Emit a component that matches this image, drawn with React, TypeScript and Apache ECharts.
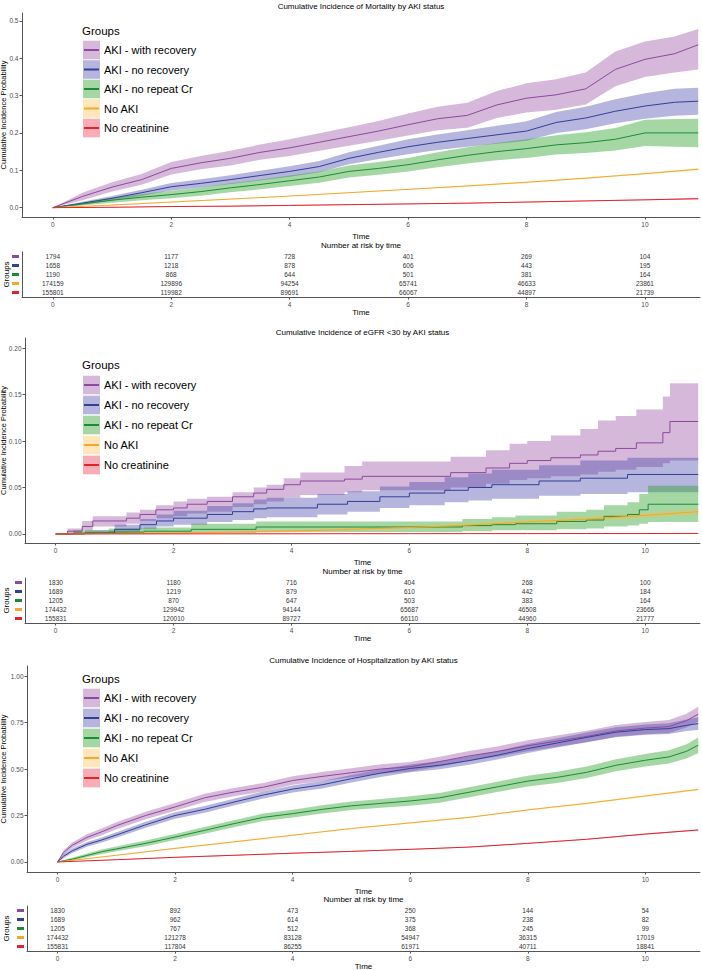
import React, { useEffect, useRef } from 'react';
import * as echarts from 'echarts';

const FONT = "'Liberation Sans', Arial, Helvetica, sans-serif";

const GROUPS = ['AKI - with recovery', 'AKI - no recovery', 'AKI - no repeat Cr', 'No AKI', 'No creatinine'];
const LINE_COLORS = ['#8C4A9C', '#333F95', '#1B8B35', '#F4A82C', '#E2232A'];
const FILL_COLORS = ['rgba(152,78,163,0.4)', 'rgba(70,70,170,0.4)', 'rgba(40,160,40,0.42)', 'rgba(255,185,60,0.35)', 'rgba(232,40,60,0.38)'];
const X_TICKS = [0, 2, 4, 6, 8, 10];
const RISK_TIMES = [0, 2, 4, 6, 8, 10];

// ---------- Panel 1: Mortality ----------
const mortT = [0, 0.5, 1, 1.5, 2, 2.5, 3, 3.5, 4, 4.5, 5, 5.5, 6, 6.5, 7, 7.5, 8, 8.5, 9, 9.5, 10, 10.5, 10.9];
const mortRecEst = [0, 0.03, 0.055, 0.075, 0.105, 0.12, 0.132, 0.148, 0.16, 0.175, 0.19, 0.205, 0.222, 0.238, 0.247, 0.275, 0.293, 0.302, 0.318, 0.37, 0.397, 0.412, 0.436];
const mortRecHi = [0, 0.04, 0.068, 0.09, 0.122, 0.138, 0.152, 0.169, 0.183, 0.199, 0.215, 0.232, 0.252, 0.27, 0.281, 0.312, 0.333, 0.344, 0.362, 0.418, 0.445, 0.458, 0.478];
const mortRecLo = [0, 0.02, 0.043, 0.061, 0.089, 0.103, 0.113, 0.128, 0.138, 0.152, 0.166, 0.179, 0.193, 0.207, 0.214, 0.24, 0.255, 0.262, 0.276, 0.325, 0.35, 0.362, 0.37];
const mortNoRecEst = [0, 0.012, 0.025, 0.04, 0.056, 0.065, 0.075, 0.086, 0.097, 0.11, 0.132, 0.148, 0.163, 0.175, 0.185, 0.195, 0.205, 0.228, 0.24, 0.258, 0.272, 0.282, 0.285];
const mortNoRecHi = [0, 0.016, 0.031, 0.048, 0.066, 0.076, 0.087, 0.099, 0.111, 0.125, 0.148, 0.166, 0.183, 0.196, 0.207, 0.219, 0.231, 0.256, 0.27, 0.29, 0.306, 0.318, 0.321];
const mortNoRecLo = [0, 0.008, 0.019, 0.032, 0.046, 0.054, 0.063, 0.073, 0.083, 0.095, 0.116, 0.13, 0.143, 0.154, 0.163, 0.171, 0.179, 0.2, 0.21, 0.226, 0.238, 0.246, 0.249];
const mortNoRepEst = [0, 0.01, 0.02, 0.028, 0.035, 0.043, 0.053, 0.062, 0.072, 0.082, 0.097, 0.105, 0.115, 0.128, 0.14, 0.15, 0.158, 0.168, 0.174, 0.183, 0.2, 0.2, 0.2];
const mortNoRepHi = [0, 0.014, 0.027, 0.036, 0.045, 0.054, 0.065, 0.075, 0.086, 0.097, 0.113, 0.122, 0.133, 0.148, 0.162, 0.173, 0.183, 0.194, 0.202, 0.213, 0.235, 0.237, 0.238];
const mortNoRepLo = [0, 0.006, 0.013, 0.02, 0.025, 0.032, 0.041, 0.049, 0.058, 0.067, 0.081, 0.088, 0.097, 0.108, 0.118, 0.127, 0.133, 0.142, 0.146, 0.153, 0.165, 0.163, 0.162];
const mortT2 = [0, 1, 2, 3, 4, 5, 6, 7, 8, 9, 10, 10.9];
const mortNoAkiEst = [0, 0.007, 0.015, 0.023, 0.031, 0.04, 0.049, 0.058, 0.068, 0.079, 0.091, 0.103];
const mortNoAkiHi = [0, 0.008, 0.016, 0.024, 0.032, 0.041, 0.05, 0.06, 0.07, 0.081, 0.093, 0.106];
const mortNoAkiLo = [0, 0.006, 0.014, 0.022, 0.03, 0.039, 0.048, 0.056, 0.066, 0.077, 0.089, 0.1];
const mortNoCrEst = [0, 0.001, 0.003, 0.004, 0.006, 0.008, 0.01, 0.012, 0.015, 0.018, 0.021, 0.024];
const mortNoCrHi = [0, 0.0015, 0.0035, 0.005, 0.007, 0.009, 0.011, 0.013, 0.016, 0.019, 0.022, 0.026];
const mortNoCrLo = [0, 0.0005, 0.0025, 0.003, 0.005, 0.007, 0.009, 0.011, 0.014, 0.017, 0.02, 0.022];
const mortAtRisk = [
  [1794, 1177, 728, 401, 269, 104],
  [1658, 1218, 878, 606, 443, 195],
  [1190, 868, 644, 501, 381, 164],
  [174159, 129896, 94254, 65741, 46633, 23861],
  [155801, 119982, 89691, 66067, 44897, 21739],
];

// ---------- Panel 2: eGFR < 30 ----------
const egfrRecT = [0, 0.2, 0.45, 0.63, 1.2, 1.43, 1.7, 2.0, 2.23, 2.57, 3.0, 3.36, 3.58, 3.87, 4.15, 4.9, 5.2, 6.7, 7.3, 7.7, 8.0, 8.4, 8.9, 9.2, 9.5, 9.85, 10.3, 10.42, 10.9];
const egfrRecEst = [0, 0.003, 0.008, 0.014, 0.017, 0.021, 0.026, 0.028, 0.032, 0.035, 0.04, 0.044, 0.048, 0.053, 0.057, 0.059, 0.062, 0.066, 0.071, 0.076, 0.079, 0.082, 0.085, 0.089, 0.092, 0.098, 0.109, 0.121, 0.121];
const egfrRecHi = [0, 0.006, 0.014, 0.019, 0.023, 0.026, 0.031, 0.035, 0.038, 0.04, 0.045, 0.05, 0.053, 0.06, 0.066, 0.073, 0.078, 0.083, 0.09, 0.097, 0.1, 0.106, 0.113, 0.122, 0.127, 0.134, 0.148, 0.162, 0.162];
const egfrRecLo = [0, 0.001, 0.004, 0.008, 0.011, 0.014, 0.017, 0.019, 0.022, 0.024, 0.029, 0.032, 0.035, 0.039, 0.042, 0.045, 0.047, 0.05, 0.054, 0.058, 0.06, 0.062, 0.064, 0.067, 0.069, 0.072, 0.076, 0.079, 0.079];
const egfrNoRecT = [0, 0.5, 1.0, 1.43, 1.71, 2.0, 2.57, 3.0, 3.36, 3.58, 4.44, 4.95, 5.5, 6.0, 6.6, 7.0, 7.4, 8.2, 8.9, 9.7, 10.9];
const egfrNoRecEst = [0, 0.001, 0.005, 0.01, 0.014, 0.017, 0.021, 0.024, 0.027, 0.028, 0.032, 0.035, 0.04, 0.044, 0.047, 0.05, 0.053, 0.057, 0.06, 0.064, 0.064];
const egfrNoRecHi = [0, 0.004, 0.01, 0.016, 0.021, 0.025, 0.03, 0.033, 0.037, 0.039, 0.043, 0.046, 0.051, 0.056, 0.061, 0.065, 0.069, 0.074, 0.079, 0.082, 0.082];
const egfrNoRecLo = [0, 0, 0.002, 0.005, 0.008, 0.01, 0.013, 0.015, 0.017, 0.018, 0.021, 0.024, 0.028, 0.031, 0.034, 0.036, 0.038, 0.041, 0.043, 0.045, 0.045];
const egfrNoRepT = [0, 0.3, 0.9, 1.5, 2.3, 3.4, 6.9, 7.4, 7.8, 8.5, 9.0, 9.3, 9.7, 9.9, 10.05, 10.9];
const egfrNoRepEst = [0, 0.001, 0.002, 0.003, 0.005, 0.0075, 0.009, 0.01, 0.011, 0.0135, 0.015, 0.019, 0.021, 0.026, 0.032, 0.032];
const egfrNoRepHi = [0, 0.004, 0.006, 0.007, 0.011, 0.0135, 0.016, 0.018, 0.02, 0.024, 0.026, 0.031, 0.034, 0.043, 0.052, 0.052];
const egfrNoRepLo = [0, 0, 0, 0.0005, 0.001, 0.002, 0.003, 0.004, 0.004, 0.005, 0.006, 0.008, 0.009, 0.011, 0.013, 0.013];
const egfrT2 = [0, 2, 4, 5, 6, 7, 8, 9, 10, 10.9];
const egfrNoAkiEst = [0, 0.001, 0.003, 0.005, 0.007, 0.0095, 0.013, 0.016, 0.02, 0.024];
const egfrNoAkiHi = [0, 0.002, 0.0045, 0.0065, 0.0088, 0.0115, 0.015, 0.0185, 0.0225, 0.027];
const egfrNoAkiLo = [0, 0.0005, 0.0018, 0.0035, 0.0053, 0.0075, 0.011, 0.0135, 0.0175, 0.021];
const egfrNoCrEst = [0, 0.0001, 0.0002, 0.0003, 0.0003, 0.0004, 0.0004, 0.0005, 0.0005, 0.0006];
const egfrNoCrHi = [0, 0.0003, 0.0004, 0.0005, 0.0005, 0.0006, 0.0006, 0.0007, 0.0007, 0.0008];
const egfrNoCrLo = [0, 0, 0.0001, 0.0002, 0.0002, 0.0003, 0.0003, 0.0004, 0.0004, 0.0005];
const egfrAtRisk = [
  [1830, 1180, 716, 404, 268, 100],
  [1689, 1219, 879, 610, 442, 184],
  [1205, 870, 647, 503, 383, 164],
  [174432, 129942, 94144, 65687, 46508, 23666],
  [155831, 120010, 89727, 66110, 44960, 21777],
];

// ---------- Panel 3: Hospitalization ----------
const hospT = [0, 0.1, 0.25, 0.5, 0.75, 1, 1.5, 2, 2.5, 3, 3.5, 4, 4.5, 5, 5.5, 6, 6.5, 7, 7.5, 8, 8.5, 9, 9.5, 10, 10.4, 10.7, 10.9];
const hospRecEst = [0, 0.05, 0.09, 0.132, 0.162, 0.195, 0.25, 0.296, 0.345, 0.376, 0.402, 0.438, 0.46, 0.48, 0.5, 0.512, 0.54, 0.57, 0.595, 0.625, 0.65, 0.675, 0.705, 0.72, 0.728, 0.76, 0.795];
const hospRecHi = [0, 0.062, 0.105, 0.149, 0.18, 0.214, 0.27, 0.317, 0.367, 0.398, 0.425, 0.461, 0.484, 0.504, 0.525, 0.537, 0.566, 0.597, 0.623, 0.654, 0.68, 0.706, 0.737, 0.753, 0.763, 0.797, 0.835];
const hospRecLo = [0, 0.038, 0.075, 0.115, 0.144, 0.176, 0.23, 0.275, 0.323, 0.354, 0.379, 0.415, 0.436, 0.456, 0.475, 0.487, 0.514, 0.543, 0.567, 0.596, 0.62, 0.644, 0.673, 0.687, 0.693, 0.723, 0.755];
const hospNoRecEst = [0, 0.03, 0.06, 0.095, 0.118, 0.145, 0.2, 0.25, 0.283, 0.322, 0.36, 0.392, 0.415, 0.448, 0.478, 0.503, 0.52, 0.545, 0.575, 0.61, 0.64, 0.67, 0.698, 0.712, 0.717, 0.735, 0.744];
const hospNoRecHi = [0, 0.04, 0.072, 0.108, 0.132, 0.16, 0.216, 0.267, 0.301, 0.34, 0.379, 0.411, 0.435, 0.468, 0.499, 0.524, 0.542, 0.567, 0.598, 0.634, 0.665, 0.696, 0.725, 0.74, 0.746, 0.766, 0.778];
const hospNoRecLo = [0, 0.02, 0.048, 0.082, 0.104, 0.13, 0.184, 0.233, 0.265, 0.304, 0.341, 0.373, 0.395, 0.428, 0.457, 0.482, 0.498, 0.523, 0.552, 0.586, 0.615, 0.644, 0.671, 0.684, 0.688, 0.704, 0.71];
const hospNoRepEst = [0, 0.006, 0.015, 0.035, 0.055, 0.07, 0.1, 0.134, 0.17, 0.206, 0.24, 0.26, 0.283, 0.302, 0.315, 0.328, 0.345, 0.375, 0.405, 0.435, 0.455, 0.482, 0.52, 0.547, 0.565, 0.595, 0.628];
const hospNoRepHi = [0, 0.011, 0.023, 0.045, 0.067, 0.083, 0.115, 0.15, 0.188, 0.225, 0.26, 0.281, 0.305, 0.325, 0.339, 0.353, 0.371, 0.402, 0.433, 0.464, 0.485, 0.513, 0.552, 0.581, 0.601, 0.633, 0.67];
const hospNoRepLo = [0, 0.001, 0.007, 0.025, 0.043, 0.057, 0.085, 0.118, 0.152, 0.187, 0.22, 0.239, 0.261, 0.279, 0.291, 0.303, 0.319, 0.348, 0.377, 0.406, 0.425, 0.451, 0.488, 0.513, 0.529, 0.557, 0.586];
const hospT2 = [0, 1, 2, 3, 4, 5, 6, 7, 8, 9, 10, 10.9];
const hospNoAkiEst = [0, 0.036, 0.073, 0.108, 0.144, 0.18, 0.21, 0.24, 0.28, 0.315, 0.355, 0.39];
const hospNoAkiHi = [0, 0.038, 0.076, 0.111, 0.147, 0.183, 0.213, 0.243, 0.283, 0.319, 0.359, 0.395];
const hospNoAkiLo = [0, 0.034, 0.07, 0.105, 0.141, 0.177, 0.207, 0.237, 0.277, 0.311, 0.351, 0.385];
const hospNoCrEst = [0, 0.012, 0.025, 0.036, 0.047, 0.057, 0.068, 0.08, 0.1, 0.122, 0.15, 0.172];
const hospNoCrHi = [0, 0.013, 0.027, 0.038, 0.049, 0.059, 0.07, 0.082, 0.102, 0.124, 0.153, 0.175];
const hospNoCrLo = [0, 0.011, 0.023, 0.034, 0.045, 0.055, 0.066, 0.078, 0.098, 0.12, 0.147, 0.169];
const hospAtRisk = [
  [1830, 892, 473, 250, 144, 54],
  [1689, 962, 614, 375, 238, 82],
  [1205, 767, 512, 368, 245, 99],
  [174432, 121278, 83128, 54947, 36315, 17019],
  [155831, 117804, 86255, 61971, 40711, 18841],
];

type Curve = { t: number[]; est: number[]; lo: number[]; hi: number[]; step: boolean };

const PANELS = [
  {
    title: 'Cumulative Incidence of Mortality by AKI status',
    left: 22, plotTop: 13, plotBottom: 217, tableTop: 252, tableBottom: 297, top: 0,
    yMin: -0.025, yMax: 0.521, yTicks: [0, 0.1, 0.2, 0.3, 0.4, 0.5], yDec: 1,
    legendY: 31, legendFirst: 50, legendStep: 19.5, yNameGap: 15, groupsGap: 12,
    curves: [
      { t: mortT, est: mortRecEst, lo: mortRecLo, hi: mortRecHi, step: false },
      { t: mortT, est: mortNoRecEst, lo: mortNoRecLo, hi: mortNoRecHi, step: false },
      { t: mortT, est: mortNoRepEst, lo: mortNoRepLo, hi: mortNoRepHi, step: false },
      { t: mortT2, est: mortNoAkiEst, lo: mortNoAkiLo, hi: mortNoAkiHi, step: false },
      { t: mortT2, est: mortNoCrEst, lo: mortNoCrLo, hi: mortNoCrHi, step: false },
    ] as Curve[],
    risk: mortAtRisk,
  },
  {
    title: 'Cumulative Incidence of eGFR <30 by AKI status',
    left: 25, plotTop: 338, plotBottom: 543, tableTop: 578, tableBottom: 623, top: 326,
    yMin: -0.0097, yMax: 0.2108, yTicks: [0, 0.05, 0.1, 0.15, 0.2], yDec: 2,
    legendY: 365, legendFirst: 385, legendStep: 20, yNameGap: 18, groupsGap: 15,
    curves: [
      { t: egfrRecT, est: egfrRecEst, lo: egfrRecLo, hi: egfrRecHi, step: true },
      { t: egfrNoRecT, est: egfrNoRecEst, lo: egfrNoRecLo, hi: egfrNoRecHi, step: true },
      { t: egfrNoRepT, est: egfrNoRepEst, lo: egfrNoRepLo, hi: egfrNoRepHi, step: true },
      { t: egfrT2, est: egfrNoAkiEst, lo: egfrNoAkiLo, hi: egfrNoAkiHi, step: false },
      { t: egfrT2, est: egfrNoCrEst, lo: egfrNoCrLo, hi: egfrNoCrHi, step: false },
    ] as Curve[],
    risk: egfrAtRisk,
  },
  {
    title: 'Cumulative Incidence of Hospitalization by AKI status',
    left: 27, plotTop: 666, plotBottom: 872, tableTop: 906, tableBottom: 951, top: 654,
    yMin: -0.054, yMax: 1.054, yTicks: [0, 0.25, 0.5, 0.75, 1], yDec: 2,
    legendY: 679, legendFirst: 698, legendStep: 20, yNameGap: 20, groupsGap: 17,
    curves: [
      { t: hospT, est: hospRecEst, lo: hospRecLo, hi: hospRecHi, step: false },
      { t: hospT, est: hospNoRecEst, lo: hospNoRecLo, hi: hospNoRecHi, step: false },
      { t: hospT, est: hospNoRepEst, lo: hospNoRepLo, hi: hospNoRepHi, step: false },
      { t: hospT2, est: hospNoAkiEst, lo: hospNoAkiLo, hi: hospNoAkiHi, step: false },
      { t: hospT2, est: hospNoCrEst, lo: hospNoCrLo, hi: hospNoCrHi, step: false },
    ] as Curve[],
    risk: hospAtRisk,
  },
];

const X_MIN = -0.52;
const X_MAX = 10.93;
const AXIS_COLOR = '#555555';
const LABEL_COLOR = '#4d4d4d';

function buildOption() {
  const grid: any[] = [];
  const xAxis: any[] = [];
  const yAxis: any[] = [];
  const series: any[] = [];
  const graphic: any[] = [];

  PANELS.forEach((P, p) => {
    const gi = 2 * p;
    const ti = 2 * p + 1;
    grid.push({ left: P.left, right: 2, top: P.plotTop, height: P.plotBottom - P.plotTop, containLabel: false, outerBoundsMode: 'none' });
    grid.push({ left: P.left, right: 2, top: P.tableTop, height: P.tableBottom - P.tableTop, containLabel: false, outerBoundsMode: 'none' });

    const xCommon = {
      type: 'value', min: X_MIN, max: X_MAX,
      axisLine: { show: true, onZero: false, lineStyle: { color: AXIS_COLOR, width: 1 } },
      axisTick: { show: true, length: 2.5, customValues: X_TICKS, lineStyle: { color: AXIS_COLOR } },
      axisLabel: { customValues: X_TICKS, fontSize: 6.5, color: LABEL_COLOR, margin: 3.5, fontFamily: FONT },
      splitLine: { show: false },
      name: 'Time', nameLocation: 'middle', nameMoveOverlap: false,
      nameTextStyle: { fontSize: 8, color: '#000', fontFamily: FONT },
    };
    xAxis.push({ ...xCommon, gridIndex: gi, nameGap: 15 });
    xAxis.push({ ...xCommon, gridIndex: ti, nameGap: 11 });

    yAxis.push({
      type: 'value', gridIndex: gi, min: P.yMin, max: P.yMax,
      axisLine: { show: true, onZero: false, lineStyle: { color: AXIS_COLOR, width: 1 } },
      axisTick: { show: true, length: 2.5, customValues: P.yTicks, lineStyle: { color: AXIS_COLOR } },
      axisLabel: {
        customValues: P.yTicks, fontSize: 6.5, color: LABEL_COLOR, margin: 3.5, fontFamily: FONT,
        formatter: (v: number) => v.toFixed(P.yDec),
      },
      splitLine: { show: false },
      name: 'Cumulative Incidence Probability', nameLocation: 'middle', nameRotate: 90, nameGap: P.yNameGap,
      nameMoveOverlap: false,
      nameTextStyle: { fontSize: 7.5, color: '#000', fontFamily: FONT },
    });
    const rich: any = {};
    LINE_COLORS.forEach((c, i) => {
      rich['g' + i] = { width: 7, height: 3, backgroundColor: c, fontSize: 3, lineHeight: 3 };
    });
    yAxis.push({
      type: 'category', gridIndex: ti, data: GROUPS, inverse: true,
      axisLine: { show: true, onZero: false, lineStyle: { color: AXIS_COLOR, width: 1 } },
      axisTick: { show: false },
      axisLabel: { margin: 3, interval: 0, hideOverlap: false, formatter: (_v: string, i: number) => '{g' + i + '| }', rich },
      splitLine: { show: false },
      name: 'Groups', nameLocation: 'middle', nameRotate: 90, nameGap: P.groupsGap,
      nameMoveOverlap: false,
      nameTextStyle: { fontSize: 8, color: '#000', fontFamily: FONT },
    });

    // confidence bands
    P.curves.forEach((c, k) => {
      series.push({
        type: 'custom', xAxisIndex: gi, yAxisIndex: gi, silent: true, z: 1,
        data: [[c.t[0], c.est[0]]],
        encode: { x: 0, y: 1 },
        clip: true,
        renderItem: (_params: any, api: any) => {
          const n = c.t.length;
          const pts: number[][] = [];
          for (let i = 0; i < n; i++) {
            pts.push(api.coord([c.t[i], c.hi[i]]));
            if (c.step && i < n - 1) pts.push(api.coord([c.t[i + 1], c.hi[i]]));
          }
          for (let i = n - 1; i >= 0; i--) {
            if (c.step && i < n - 1) pts.push(api.coord([c.t[i + 1], c.lo[i]]));
            pts.push(api.coord([c.t[i], c.lo[i]]));
          }
          return { type: 'polygon', shape: { points: pts }, style: { fill: FILL_COLORS[k] }, silent: true };
        },
      });
    });
    // estimate lines
    P.curves.forEach((c, k) => {
      series.push({
        type: 'line', xAxisIndex: gi, yAxisIndex: gi, silent: true, z: 3,
        data: c.t.map((t, i) => [t, c.est[i]]),
        step: c.step ? 'end' : false,
        symbol: 'none', showSymbol: false,
        lineStyle: { color: LINE_COLORS[k], width: 1 },
        itemStyle: { color: LINE_COLORS[k] },
      });
    });
    // risk table
    const tableData: number[][] = [];
    P.risk.forEach((row, r) => row.forEach((n, j) => tableData.push([RISK_TIMES[j], r, n])));
    series.push({
      type: 'custom', xAxisIndex: ti, yAxisIndex: ti, silent: true,
      data: tableData, encode: { x: 0, y: 1 },
      renderItem: (_params: any, api: any) => {
        const pt = api.coord([api.value(0), api.value(1)]);
        return {
          type: 'text', x: pt[0], y: pt[1],
          style: { text: String(api.value(2)), fontSize: 6.5, fill: '#333', align: 'center', verticalAlign: 'middle', fontFamily: FONT },
        };
      },
    });

    // titles
    const cx = (P.left + 700) / 2;
    graphic.push({
      type: 'text', x: cx, y: P.top + 6,
      style: { text: P.title, fontSize: 8, fill: '#000', align: 'center', verticalAlign: 'middle', fontFamily: FONT },
    });
    graphic.push({
      type: 'text', x: cx, y: P.top + 245,
      style: { text: 'Number at risk by time', fontSize: 8, fill: '#000', align: 'center', verticalAlign: 'middle', fontFamily: FONT },
    });
    // legend
    graphic.push({
      type: 'text', x: 82, y: P.legendY,
      style: { text: 'Groups', fontSize: 11.5, fill: '#000', align: 'left', verticalAlign: 'middle', fontFamily: FONT },
    });
    GROUPS.forEach((g, i) => {
      const cy = P.legendFirst + i * P.legendStep;
      graphic.push({ type: 'rect', shape: { x: 83, y: cy - 9.3, width: 17, height: 18.6 }, style: { fill: FILL_COLORS[i] } });
      graphic.push({ type: 'line', shape: { x1: 84, y1: cy, x2: 99, y2: cy }, style: { stroke: LINE_COLORS[i], lineWidth: 2 } });
      graphic.push({
        type: 'text', x: 104, y: cy,
        style: { text: g, fontSize: 11, fill: '#000', align: 'left', verticalAlign: 'middle', fontFamily: FONT },
      });
    });
  });

  return {
    animation: false,
    backgroundColor: '#ffffff',
    textStyle: { fontFamily: FONT },
    grid, xAxis, yAxis, series, graphic,
  };
}

export default function App() {
  const ref = useRef<HTMLDivElement>(null);
  useEffect(() => {
    document.body.style.margin = '0';
    if (!ref.current) return;
    const chart = echarts.init(ref.current, null, { renderer: 'svg' });
    chart.setOption(buildOption() as any);
    return () => chart.dispose();
  }, []);
  return <div ref={ref} style={{ width: 702, height: 970 }} />;
}
